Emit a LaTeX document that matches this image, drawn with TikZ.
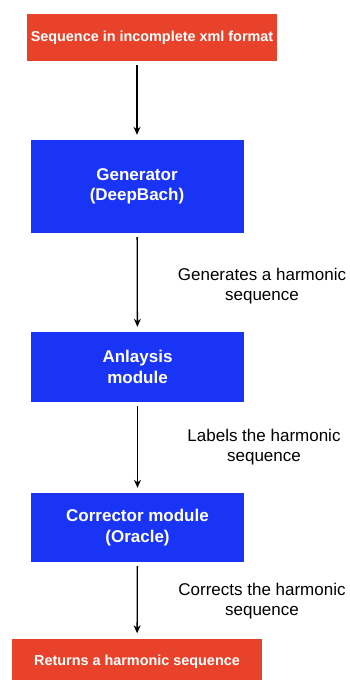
\documentclass[tikz,border=0pt]{standalone}
\usepackage{fontspec}
\setmainfont{Liberation Sans}
\usetikzlibrary{arrows.meta}
\definecolor{boxred}{RGB}{232,67,42}
\definecolor{boxblue}{RGB}{26,52,246}
\tikzstyle{startstop} = [rectangle, minimum width=250pt, minimum height=47pt, text centered, fill=boxred, text=white, font=\bfseries\fontsize{14.4}{17}\selectfont, inner sep=0pt]
\tikzstyle{process} = [rectangle, minimum width=213pt, text centered, align=center, fill=boxblue, text=white, font=\bfseries\fontsize{17}{20.5}\selectfont, inner sep=0pt]
\tikzstyle{note} = [align=center, font=\fontsize{17}{20.5}\selectfont, inner sep=0pt]
\tikzstyle{arrow} = [line width=1.3pt,-{Stealth[length=8pt,width=7pt]}, shorten <=4pt, shorten >=5pt]

\begin{document}
\begin{tikzpicture}[x=1pt, y=-1pt]

    \useasboundingbox (0,0) rectangle (350,680);

    \node (start) [startstop] at (152,37.5) {Sequence in incomplete xml format};
    \node (gen) [process, minimum height=93pt] at (137,186.5) {Generator\\(DeepBach)};
    \node (anl) [process, minimum height=70pt] at (137.5,367) {Anlaysis\\module};
    \node (corr) [process, minimum height=69pt] at (137.5,527.5) {Corrector module\\(Oracle)};
    \node (stop) [startstop] at (137,662) {Returns a harmonic sequence};

    \node (lgen) [note] at (262,286) {Generates a harmonic\\sequence};
    \node (lanl) [note] at (264,447) {Labels the harmonic\\sequence};
    \node (lcorr) [note] at (262,601) {Corrects the harmonic\\sequence};

    \draw [arrow] (start.south -| gen.north) -- (gen.north);
    \draw [arrow] (gen) -- (anl);
    \draw [arrow] (anl) -- (corr);
    \draw [arrow] (corr) -- (stop);

\end{tikzpicture}
\end{document}
